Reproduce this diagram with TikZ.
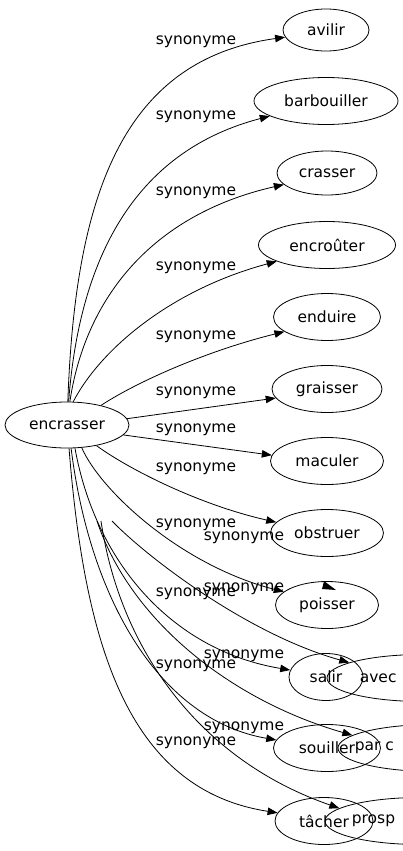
\documentclass[tikz,border=0pt]{standalone}
\usepackage{fontspec}
\setmainfont{DejaVu Sans}
\usetikzlibrary{arrows.meta,shapes.geometric}
\begin{document}
\begin{tikzpicture}[x=1pt,y=-1pt,
  word/.style={ellipse,draw,line width=0.8pt,inner sep=0pt,minimum height=47pt,
    font=\fontsize{15.5}{18}\selectfont},
  lab/.style={inner sep=0pt,font=\fontsize{15.5}{18}\selectfont},
  edge/.style={draw,line width=0.8pt,-{Triangle[length=10pt,width=7.5pt]}}]
\useasboundingbox (0,0) rectangle (403,851);
\clip (0,0) rectangle (403,851);
% nodes
\node[word,minimum width=124pt,minimum height=46pt] (enc) at (67,425) {encrasser};
\node[word,minimum width=86pt,minimum height=42pt] (avilir) at (326,30) {avilir};
\node[word,minimum width=144pt] (barb) at (326,101) {barbouiller};
\node[word,minimum width=100pt,minimum height=44pt] (crasser) at (327,173) {crasser};
\node[word,minimum width=137pt] (encr) at (327,245) {encroûter};
\node[word,minimum width=107pt] (enduire) at (327,317) {enduire};
\node[word,minimum width=110pt] (graisser) at (327,389) {graisser};
\node[word,minimum width=113pt] (maculer) at (327,461) {maculer};
\node[word,minimum width=113pt] (obstruer) at (327,533) {obstruer};
\node[word,minimum width=103pt] (poisser) at (327,605) {poisser};
\node[word,minimum width=190pt,label={[lab,anchor=west,xshift=33pt]west:avec}] (avec) at (422,678) {};
\node[word,minimum width=190pt,label={[lab,anchor=west,xshift=17pt]west:par c}] (par) at (433,748) {};
\node[word,minimum width=190pt,label={[lab,anchor=west,xshift=27pt]west:prosp}] (prosp) at (420,821) {};
\node[word,minimum width=74pt] (salir) at (326,677) {salir};
\node[word,minimum width=107pt] (souiller) at (327,748) {souiller};
\node[word,minimum width=98pt] (tacher) at (324,821) {tâcher};
% free starts
\coordinate (fs1) at (97,521);
\coordinate (fs2) at (101,521);
\coordinate (fs3) at (112,521);
% edges
\draw[edge] (enc.88) .. controls (75,200) and (120,60) .. (avilir.190);
\draw[edge] (enc.86) .. controls (80,250) and (140,150) .. (barb.195);
\draw[edge] (enc.83) .. controls (85,300) and (150,215) .. (crasser.195);
\draw[edge] (enc.75) .. controls (100,350) and (170,290) .. (encr.198);
\draw[edge] (enc.30) .. controls (140,380) and (210,350) .. (enduire.199);
\draw[edge] (enc.6) -- (graisser.190);
\draw[edge] (enc.-10) -- (maculer.174);
\draw[edge] (enc.-35) .. controls (130,470) and (200,505) .. (obstruer.168);
\draw[edge] (enc.-57) .. controls (100,490) and (180,565) .. (poisser.163);
\draw[edge] (enc.-71) .. controls (95,560) and (170,650) .. (salir.169);
\draw[edge] (enc.-80) .. controls (90,600) and (160,720) .. (souiller.171);
\draw[edge] (enc.-85) .. controls (85,650) and (130,790) .. (tacher.170);
\draw[edge] (fs3) .. controls (150,560) and (250,635) .. (avec.168);
\draw[edge] (fs1) .. controls (130,620) and (230,700) .. (par.171);
\draw[edge] (fs2) .. controls (120,650) and (200,760) .. (prosp.171);
% stray arrowhead on poisser
\fill (322,589) -- (336,590) -- (324,581) -- cycle;
% labels
\node[lab] (l1) at (196,42) {synonyme};
\node[lab] (l2) at (196,117) {synonyme};
\node[lab] (l3) at (196,193) {synonyme};
\node[lab] (l4) at (196,268) {synonyme};
\node[lab] (l5) at (196,337) {synonyme};
\node[lab] (l6) at (196,393) {synonyme};
\node[lab] (l7) at (196,430) {synonyme};
\node[lab] (l8) at (196,469) {synonyme};
\node[lab] (l9) at (196,525) {synonyme};
\node[lab] (l10) at (196,594) {synonyme};
\node[lab] (l11) at (196,666) {synonyme};
\node[lab] (l12) at (196,743) {synonyme};
\node[lab] (m1) at (244,538) {synonyme};
\node[lab] (m2) at (244,589) {synonyme};
\node[lab] (m3) at (244,656) {synonyme};
\node[lab] (m4) at (244,728) {synonyme};
\end{tikzpicture}
\end{document}
